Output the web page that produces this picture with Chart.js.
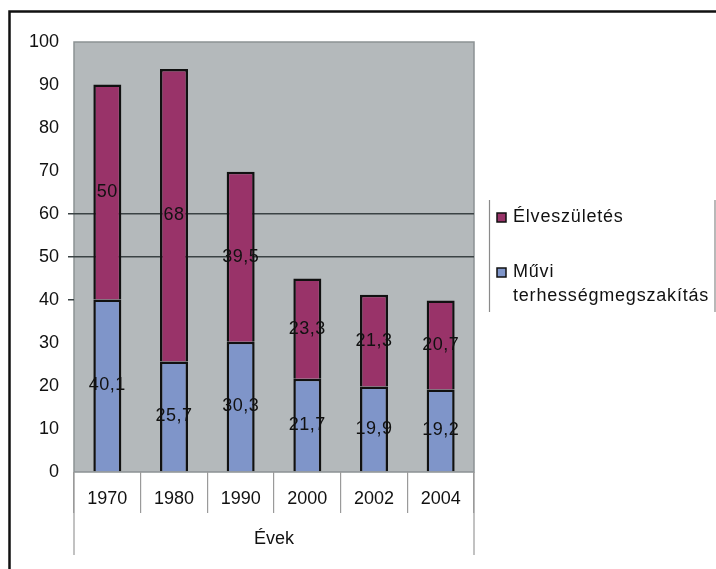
<!DOCTYPE html>
<html>
<head>
<meta charset="utf-8">
<script src="https://cdn.jsdelivr.net/npm/chart.js@4.4.1/dist/chart.umd.min.js"></script>
<style>
  html, body { margin: 0; padding: 0; background: #fff; }
  #wrap { width: 716px; height: 569px; }
</style>
</head>
<body>
<div id="wrap"><canvas id="myChart" width="716" height="569"></canvas></div>
<script>
var years = ["1970", "1980", "1990", "2000", "2002", "2004"];
var muvi = [40.1, 25.7, 30.3, 21.7, 19.9, 19.2];
var elve = [50, 68, 39.5, 23.3, 21.3, 20.7];
var legendNames = ["Élveszületés", ["Művi", "terhességmegszakítás"]];
var barColors = ["#7f95c9", "#993369"];

var FONT = "Liberation Sans, Arial, sans-serif";

// szürke rajzterület + keret
const plotBg = {
  id: "plotBg",
  beforeDraw(chart) {
    const c = chart.ctx, a = chart.chartArea;
    c.save();
    c.fillStyle = "#b4b9bb";
    c.fillRect(a.left, a.top, a.right - a.left, a.bottom - a.top);
    c.strokeStyle = "#8c9294";
    c.lineWidth = 1.5;
    c.strokeRect(a.left, a.top, a.right - a.left, a.bottom - a.top);
    c.restore();
  },
  afterDraw(chart) {
    const c = chart.ctx, a = chart.chartArea;
    c.save();
    // tabla szeru also resz szelei
    c.strokeStyle = "#9a9a9a";
    c.lineWidth = 1.2;
    c.beginPath();
    c.moveTo(a.left, a.bottom); c.lineTo(a.left, 555);
    c.moveTo(a.right, a.bottom); c.lineTo(a.right, 555);
    c.stroke();
    // kulso keret
    c.strokeStyle = "#111";
    c.lineWidth = 2.5;
    c.beginPath();
    c.moveTo(9.5, 600); c.lineTo(9.5, 11.5); c.lineTo(720, 11.5);
    c.stroke();
    // jelmagyarazat
    c.strokeStyle = "#8a8a8a";
    c.lineWidth = 1.2;
    c.beginPath();
    c.moveTo(489.5, 200); c.lineTo(489.5, 312);
    c.moveTo(715, 200); c.lineTo(715, 312);
    c.stroke();
    c.font = "18px " + FONT;
    c.letterSpacing = "0.8px";
    c.fillStyle = "#111";
    c.textBaseline = "middle";
    const items = [
      { color: barColors[1], y: 217, text: legendNames[0] },
      { color: barColors[0], y: 272, text: legendNames[1] }
    ];
    items.forEach(function (it) {
      c.fillStyle = it.color;
      c.fillRect(497, it.y - 4, 9, 9);
      c.strokeStyle = "#111";
      c.lineWidth = 1.5;
      c.strokeRect(497, it.y - 4, 9, 9);
      c.fillStyle = "#111";
      const lines = Array.isArray(it.text) ? it.text : [it.text];
      lines.forEach(function (t, i) {
        c.fillText(t, 513, it.y + i * 24);
      });
    });
    c.restore();
  }
};

// ertekek a szegmensek kozepen
const valueLabels = {
  id: "valueLabels",
  afterDatasetsDraw(chart) {
    const c = chart.ctx;
    c.save();
    c.font = "18px " + FONT;
    c.letterSpacing = "0.5px";
    c.fillStyle = "#111";
    c.textAlign = "center";
    c.textBaseline = "middle";
    chart.data.datasets.forEach(function (ds, di) {
      chart.getDatasetMeta(di).data.forEach(function (bar, i) {
        const p = bar.getCenterPoint();
        c.fillText(String(ds.data[i]).replace(".", ","), p.x, p.y);
      });
    });
    c.restore();
  }
};

new Chart("myChart", {
  type: "bar",
  data: {
    labels: years,
    datasets: [
      {
        label: "Művi terhességmegszakítás",
        data: muvi,
        backgroundColor: barColors[0],
        borderColor: "#111",
        borderWidth: 2.5,
        barPercentage: 0.42,
        categoryPercentage: 1
      },
      {
        label: "Élveszületés",
        data: elve,
        backgroundColor: barColors[1],
        borderColor: "#111",
        borderWidth: 2.5,
        barPercentage: 0.42,
        categoryPercentage: 1
      }
    ]
  },
  options: {
    responsive: false,
    animation: false,
    layout: { padding: { top: 42, right: 242, bottom: 0, left: 0 } },
    plugins: {
      legend: { display: false },
      tooltip: { enabled: false }
    },
    scales: {
      x: {
        stacked: true,
        offset: true,
        grid: {
          offset: true,
          drawOnChartArea: false,
          tickLength: 41,
          color: "#9a9a9a",
          lineWidth: 1.2
        },
        border: { display: false },
        ticks: {
          padding: -25,
          color: "#111",
          font: { family: FONT, size: 18 }
        },
        title: {
          display: true,
          text: "Évek",
          color: "#111",
          font: { family: FONT, size: 18 },
          padding: { top: 0, bottom: 19 }
        },
        afterFit: function (scale) { scale.height = 97; }
      },
      y: {
        stacked: true,
        min: 0,
        max: 100,
        border: { display: false },
        grid: {
          color: function (ctx) {
            return (ctx.tick && (ctx.tick.value === 50 || ctx.tick.value === 60)) ? "#3a4244" : "rgba(0,0,0,0)";
          },
          tickColor: function (ctx) {
            return (ctx.tick && (ctx.tick.value >= 40 && ctx.tick.value <= 60)) ? "#3a4244" : "rgba(0,0,0,0)";
          },
          lineWidth: 1.5,
          tickLength: 6
        },
        ticks: {
          stepSize: 10,
          padding: 9,
          color: "#111",
          font: { family: FONT, size: 18 }
        },
        afterFit: function (scale) { scale.width = 74; }
      }
    }
  },
  plugins: [plotBg, valueLabels]
});
</script>
</body>
</html>
